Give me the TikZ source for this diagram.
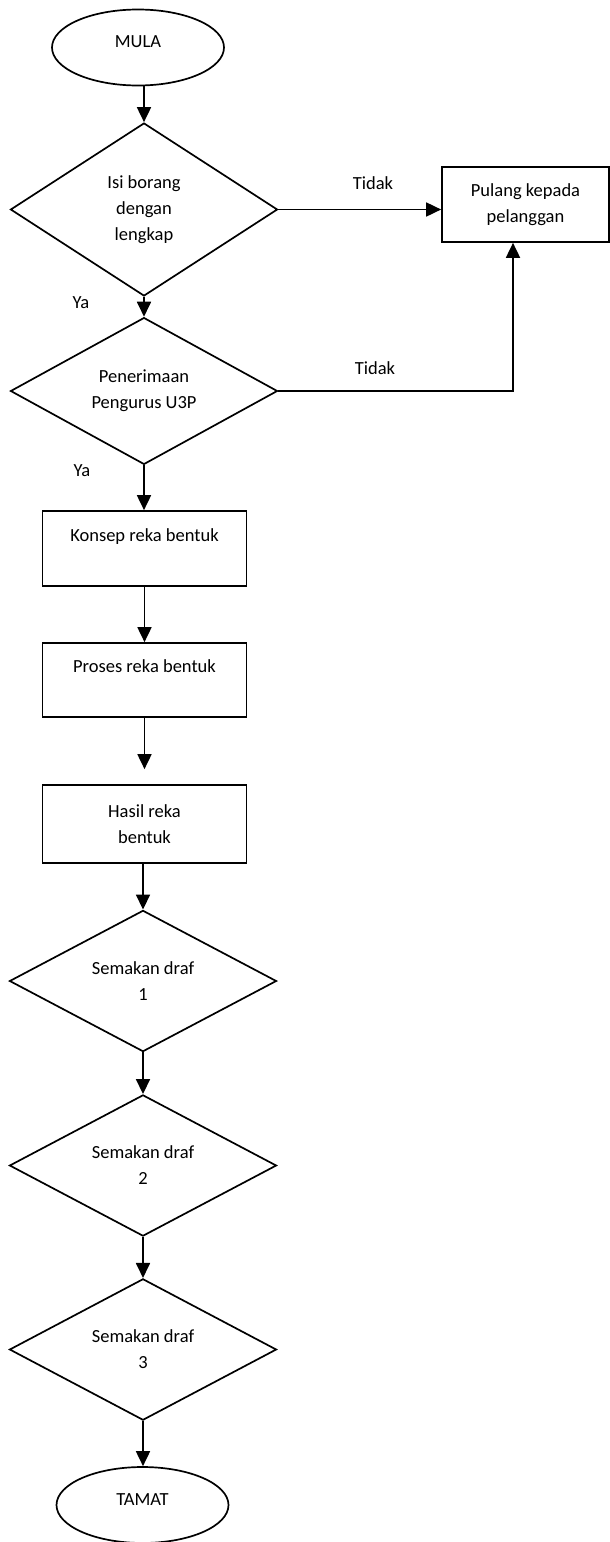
\documentclass[tikz,border=0pt]{standalone}
\usepackage{fontspec}
\setmainfont{Carlito}
\usetikzlibrary{shapes.geometric,arrows.meta}
\begin{document}
\begin{tikzpicture}[x=1pt,y=-1pt,
  every node/.style={font=\fontsize{18.5}{26}\selectfont},
  arr/.style={line width=1.8pt,-{Triangle[length=15pt,width=14pt]}},
  term/.style={ellipse,draw,line width=1.7pt,inner sep=0pt,minimum width=172pt,minimum height=76pt,text height=6pt,text depth=6pt},
  dec/.style={diamond,draw,line width=1.7pt,inner sep=0pt,align=center,minimum width=267pt},
  proc/.style={rectangle,draw,line width=1.7pt,inner sep=0pt,minimum width=204pt},
  lbl/.style={inner sep=0pt}]
\useasboundingbox (0,0) rectangle (610,1542);

\node[term] (mula) at (138,47.5) {MULA};
\node[dec, minimum height=173pt] (d1) at (144,209.5) {Isi borang\\dengan\\lengkap};
\node[proc, minimum width=167pt, minimum height=75pt, align=center] (pulang) at (525.5,204.5) {Pulang kepada\\pelanggan};
\node[dec, minimum height=128pt] (d2) at (144,391) {Penerimaan\\Pengurus U3P};
\node[proc, text height=30pt, text depth=45pt] (konsep) at (144.5,548.5) {Konsep reka bentuk};
\node[proc, text height=29pt, text depth=45pt] (proses) at (144.5,680) {Proses reka bentuk};
\node[proc, minimum height=78pt, align=center] (hasil) at (144.5,824) {Hasil reka\\bentuk};
\node[dec, minimum height=130pt] (d3) at (143,981) {Semakan draf\\1};
\node[dec, minimum height=130pt] (d4) at (143,1165.5) {Semakan draf\\2};
\node[dec, minimum height=130pt] (d5) at (143,1349.5) {Semakan draf\\3};
\node[term] (tamat) at (142.5,1505) {TAMAT};

\node[lbl] (t1) at (373,183) {Tidak};
\node[lbl] (t2) at (375,368) {Tidak};
\node[lbl] (y1) at (81,303) {Ya};
\node[lbl] (y2) at (82,471) {Ya};

\draw[arr] (mula.south -| d1.north) -- (d1.north);
\draw[arr] (d1.east) -- (d1.east -| pulang.west);
\draw[arr] (d1.south) -- (d2.north);
\draw[arr] (d2.east) -| ([xshift=-12.5pt]pulang.south);
\draw[arr] (d2.south) -- (d2.south |- konsep.north);
\draw[arr] (konsep.south) -- (proses.north);
\draw[arr, shorten >=15pt] (proses.south) -- (hasil.north);
\draw[arr] (hasil.south -| d3.north) -- (d3.north);
\draw[arr] (d3.south) -- (d4.north);
\draw[arr] (d4.south) -- (d5.north);
\draw[arr] (d5.south) -- (d5.south |- tamat.north);
\end{tikzpicture}
\end{document}
